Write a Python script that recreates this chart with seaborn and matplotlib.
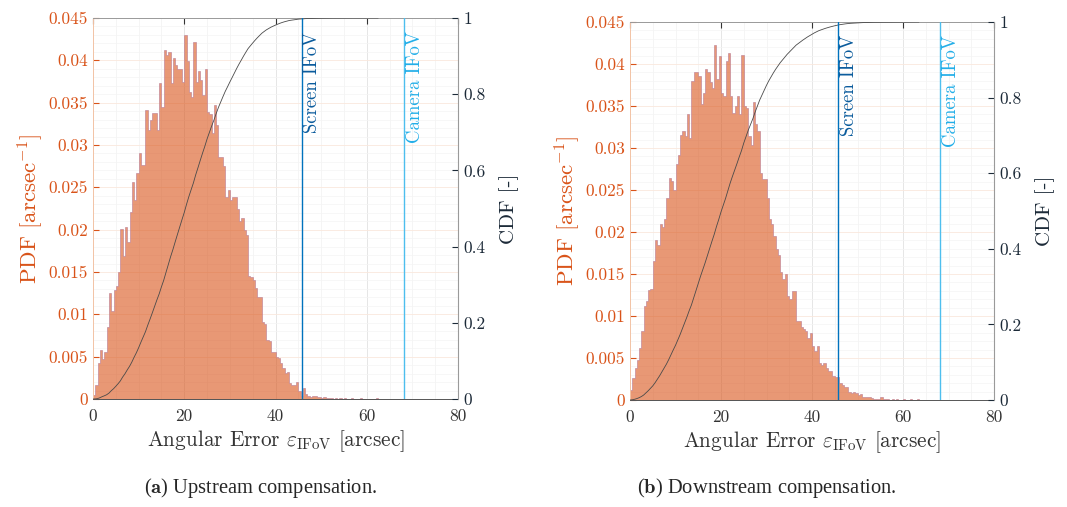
import numpy as np
import pandas as pd
import seaborn as sns
import matplotlib.pyplot as plt
from matplotlib.colors import to_rgba
from matplotlib.ticker import MultipleLocator, FuncFormatter

# histogram heights (PDF, 1/arcsec) for 0.5 arcsec bins starting at 0
bin_width = 0.5
upstream_pdf = [
    0.0005, 0.0017, 0.0043, 0.0058, 0.0047, 0.0055, 0.0085, 0.0125, 0.0104, 0.0129,
    0.0134, 0.0150, 0.0201, 0.0169, 0.0203, 0.0186, 0.0221, 0.0256, 0.0235, 0.0267,
    0.0290, 0.0276, 0.0276, 0.0341, 0.0318, 0.0330, 0.0338, 0.0338, 0.0318, 0.0373,
    0.0345, 0.0412, 0.0406, 0.0410, 0.0373, 0.0403, 0.0395, 0.0390, 0.0390, 0.0375,
    0.0430, 0.0399, 0.0363, 0.0357, 0.0422, 0.0375, 0.0387, 0.0377, 0.0359, 0.0390,
    0.0339, 0.0337, 0.0314, 0.0347, 0.0324, 0.0286, 0.0286, 0.0275, 0.0239, 0.0247,
    0.0235, 0.0239, 0.0239, 0.0224, 0.0210, 0.0214, 0.0200, 0.0194, 0.0145, 0.0144,
    0.0140, 0.0131, 0.0121, 0.0120, 0.0091, 0.0088, 0.0070, 0.0069, 0.0056, 0.0055,
    0.0050, 0.0048, 0.0042, 0.0037, 0.0031, 0.0032, 0.0019, 0.0016, 0.0017, 0.0020,
    0.0009, 0.0004, 0.0013, 0.0006, 0.0004, 0.0002, 0.0003, 0.0003, 0.0002, 0.0002,
    0.0001, 0.0002, 0.0001, 0.0001, 0.0001, 0.0000, 0.0001, 0.0000, 0.0001, 0.0000,
    0.0001, 0.0000, 0.0000, 0.0001, 0.0000, 0.0000, 0.0000, 0.0001, 0.0000, 0.0000,
    0.0000, 0.0000, 0.0000, 0.0000, 0.0001,
]
downstream_pdf = [
    0.0012, 0.0026, 0.0038, 0.0048, 0.0062, 0.0082, 0.0112, 0.0118, 0.0131, 0.0132,
    0.0166, 0.0190, 0.0184, 0.0209, 0.0206, 0.0216, 0.0240, 0.0264, 0.0261, 0.0250,
    0.0281, 0.0292, 0.0315, 0.0320, 0.0314, 0.0340, 0.0312, 0.0380, 0.0391, 0.0390,
    0.0386, 0.0352, 0.0366, 0.0394, 0.0390, 0.0378, 0.0372, 0.0423, 0.0382, 0.0410,
    0.0366, 0.0362, 0.0404, 0.0413, 0.0362, 0.0342, 0.0350, 0.0362, 0.0340, 0.0411,
    0.0350, 0.0348, 0.0314, 0.0303, 0.0355, 0.0328, 0.0320, 0.0270, 0.0263, 0.0263,
    0.0240, 0.0215, 0.0210, 0.0195, 0.0180, 0.0173, 0.0152, 0.0144, 0.0150, 0.0124,
    0.0120, 0.0130, 0.0130, 0.0094, 0.0094, 0.0087, 0.0084, 0.0082, 0.0074, 0.0080,
    0.0064, 0.0058, 0.0064, 0.0044, 0.0042, 0.0044, 0.0038, 0.0034, 0.0034, 0.0028,
    0.0027, 0.0027, 0.0020, 0.0018, 0.0016, 0.0015, 0.0010, 0.0008, 0.0009, 0.0008,
    0.0006, 0.0007, 0.0004, 0.0004, 0.0003, 0.0004, 0.0002, 0.0001, 0.0001, 0.0001,
    0.0004, 0.0001, 0.0001, 0.0001, 0.0000, 0.0001, 0.0000, 0.0001, 0.0000, 0.0000,
    0.0001, 0.0000, 0.0000, 0.0001, 0.0000, 0.0000, 0.0001,
]
screen_ifov = 45.7
camera_ifov = 68.2
panel_letters = ['a', 'b']
panel_captions = ['Upstream compensation.', 'Downstream compensation.']

ORANGE = '#D95319'
EDGE = '#b97a92'
DARK = '#1c2a38'
SCREEN = '#0072BD'
CAMERA = '#4DBEEE'

sns.set_style('white')
plt.rcParams['font.family'] = 'serif'
plt.rcParams['font.serif'] = ['cmr10']
plt.rcParams['mathtext.fontset'] = 'cm'
plt.rcParams['axes.formatter.use_mathtext'] = True
plt.rcParams['axes.unicode_minus'] = False


def draw_panel(fig, rect, pdf):
    pdf = np.asarray(pdf)
    edges = np.arange(len(pdf) + 1) * bin_width
    df = pd.DataFrame({'error': edges[:-1] + bin_width / 2, 'pdf': pdf})

    ax = fig.add_axes(rect)
    ax.set_axisbelow(True)
    sns.histplot(df, x='error', weights='pdf', binwidth=bin_width,
                 binrange=(0, edges[-1]), element='step', fill=True,
                 color=ORANGE, alpha=0.6, linewidth=0.4, ax=ax)
    coll = ax.collections[-1]
    coll.set_alpha(None)
    coll.set_facecolor(to_rgba(ORANGE, 0.6))
    coll.set_edgecolor(EDGE)
    for line in ax.lines:
        line.set_color(EDGE)
        line.set_alpha(1)

    ax.set_xlim(0, 80)
    ax.set_ylim(0, 0.045)
    ax.xaxis.set_major_locator(MultipleLocator(20))
    ax.xaxis.set_minor_locator(MultipleLocator(5))
    ax.yaxis.set_major_locator(MultipleLocator(0.005))
    ax.yaxis.set_minor_locator(MultipleLocator(0.001))
    fmt = FuncFormatter(lambda v, p: f'{v:g}')
    ax.yaxis.set_major_formatter(fmt)
    ax.xaxis.set_major_formatter(fmt)
    ax.grid(which='major', axis='x', color='#e2e2e2', lw=0.6)
    ax.grid(which='minor', axis='x', color='#f2f2f2', lw=0.5)
    ax.grid(which='major', axis='y', color='#fae8dd', lw=0.6)
    ax.grid(which='minor', axis='y', color='#f4f4f4', lw=0.5)
    ax.tick_params(which='major', direction='in', top=True, length=4, labelsize=12.5,
                   colors='#333333')
    ax.tick_params(axis='x', pad=7)
    ax.tick_params(which='minor', length=0)
    ax.tick_params(axis='y', colors=ORANGE, labelcolor=ORANGE)
    ax.set_ylabel(r'PDF [arcsec$^{-1}$]', color=ORANGE, fontsize=16.5, labelpad=2)
    ax.set_xlabel(r'Angular Error $\varepsilon_{\mathrm{IFoV}}$ [arcsec]', color='#333333',
                  fontsize=15.3, labelpad=3)
    ax.spines['left'].set_color('#f3c3a5')
    ax.spines['bottom'].set_color('#555555')
    ax.spines['top'].set_color('#9a9a9a')
    for s in ax.spines.values():
        s.set_linewidth(0.7)

    ax2 = ax.twinx()
    cdf = np.concatenate([[0], np.cumsum(pdf) / pdf.sum()])
    sns.lineplot(x=edges, y=cdf, color='#4a4a4a', lw=0.6, ax=ax2)
    ax2.axvline(screen_ifov, color=SCREEN, lw=1.0)
    ax2.axvline(camera_ifov, color=CAMERA, lw=1.0)
    ax2.text(screen_ifov + 0.4, 0.965, 'Screen IFoV', rotation=90, va='top', ha='left',
             color='#0a5b9c', fontsize=13.5)
    ax2.text(camera_ifov + 0.4, 0.965, 'Camera IFoV', rotation=90, va='top', ha='left',
             color='#22aee8', fontsize=13.5)
    ax2.set_ylim(0, 1)
    ax2.set_xlim(0, 80)
    ax2.yaxis.set_major_locator(MultipleLocator(0.2))
    ax2.yaxis.set_major_formatter(fmt)
    ax2.tick_params(axis='y', direction='in', length=4, labelsize=12.5, colors=DARK, pad=4)
    ax2.set_ylabel('CDF [-]', color=DARK, fontsize=15, labelpad=10)
    ax2.spines['right'].set_color('#9a9a9a')
    ax2.spines['left'].set_visible(False)
    ax2.spines['top'].set_visible(False)
    ax2.spines['bottom'].set_visible(False)
    ax2.grid(False)
    return ax, ax2


fig = plt.figure(figsize=(10.67, 5.07), dpi=100)
rects = [[93 / 1067, 1 - 399 / 507, 365 / 1067, 381 / 507],
         [630 / 1067, 1 - 400 / 507, 364 / 1067, 378 / 507]]
caption_x = [261 / 1067, 767 / 1067]
for rect, pdf, letter, caption, cx in zip(rects, [upstream_pdf, downstream_pdf],
                                          panel_letters, panel_captions, caption_x):
    draw_panel(fig, rect, pdf)
    fig.text(cx, 1 - 488 / 507, r'($\mathbf{' + letter + r'}$) ' + caption,
             ha='center', va='center', fontsize=14.8, family='Liberation Serif')

fig.savefig('out.png', dpi=100)
